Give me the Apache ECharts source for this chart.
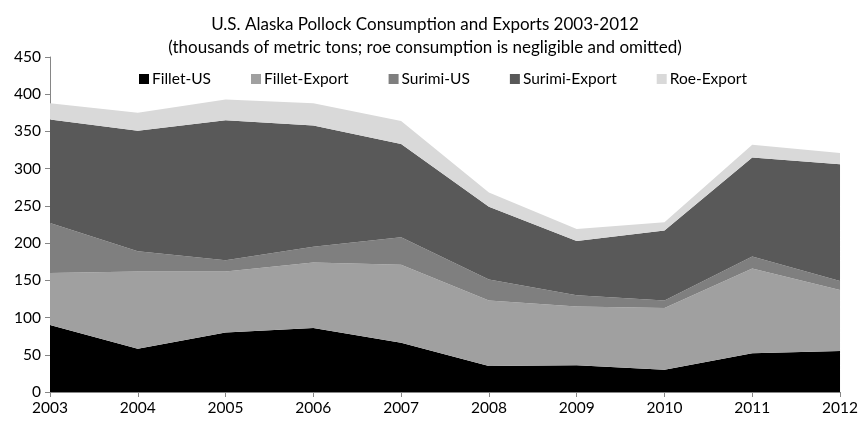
<!DOCTYPE html>
<html><head><meta charset="utf-8">
<script src="https://cdn.jsdelivr.net/npm/echarts@6/dist/echarts.min.js"></script>
<style>html,body{margin:0;padding:0;background:#fff}#c{width:861px;height:422px}</style>
</head><body><div id="c"></div>
<script>
const years = ['2003','2004','2005','2006','2007','2008','2009','2010','2011','2012'];
const filletUS = [90, 58, 80, 86, 66, 35, 36, 30, 52, 55];
const filletExport = [70, 104, 82, 88, 105, 88, 79, 83, 114, 82];
const surimiUS = [67, 27, 15, 21, 37, 28, 15, 10, 16, 12];
const surimiExport = [139, 162, 188, 163, 125, 98, 73, 94, 133, 157];
const roeExport = [22, 24, 28, 30, 31, 19, 16, 11, 17, 15];
const seriesNames = ['Fillet-US','Fillet-Export','Surimi-US','Surimi-Export','Roe-Export'];
const seriesData = [filletUS, filletExport, surimiUS, surimiExport, roeExport];
const colors = ['#000000','#a0a0a0','#7f7f7f','#595959','#d9d9d9'];
const FONT = 'Lato';
const chart = echarts.init(document.getElementById('c'));
chart.setOption({
  animation: false,
  color: colors,
  title: {
    text: 'U.S. Alaska Pollock Consumption and Exports 2003-2012\n(thousands of metric tons; roe consumption is negligible and omitted)',
    left: 420, textAlign: 'center', top: 8,
    textStyle: {fontFamily: FONT, fontSize: 17, fontWeight: 'normal', color: '#000', lineHeight: 23}
  },
  legend: {
    data: seriesNames, left: 134, top: 66, itemWidth: 10, itemHeight: 10, itemGap: 40,
    icon: 'rect',
    textStyle: {fontFamily: FONT, fontSize: 15.5, color: '#000', padding: [0,0,0,-2]}
  },
  grid: {left: 50, right: 18, top: 57, bottom: 30, containLabel: false},
  xAxis: {
    type: 'category', data: years, boundaryGap: false,
    axisLine: {lineStyle: {color: '#868686'}},
    axisTick: {show: true, length: 5, lineStyle: {color: '#868686'}},
    axisLabel: {fontFamily: FONT, fontSize: 15.5, color: '#000', margin: 8}
  },
  yAxis: {
    type: 'value', min: 0, max: 450, interval: 50,
    splitLine: {show: false},
    axisLine: {show: true, lineStyle: {color: '#868686'}},
    axisTick: {show: true, length: 5, lineStyle: {color: '#868686'}},
    axisLabel: {fontFamily: FONT, fontSize: 15.5, color: '#000', margin: 9}
  },
  series: seriesNames.map((n, i) => ({
    name: n, type: 'line', stack: 'total', data: seriesData[i],
    symbol: 'none', lineStyle: {width: 0}, areaStyle: {color: colors[i], opacity: 1},
    itemStyle: {color: colors[i]}, z: 2
  }))
});
</script></body></html>
